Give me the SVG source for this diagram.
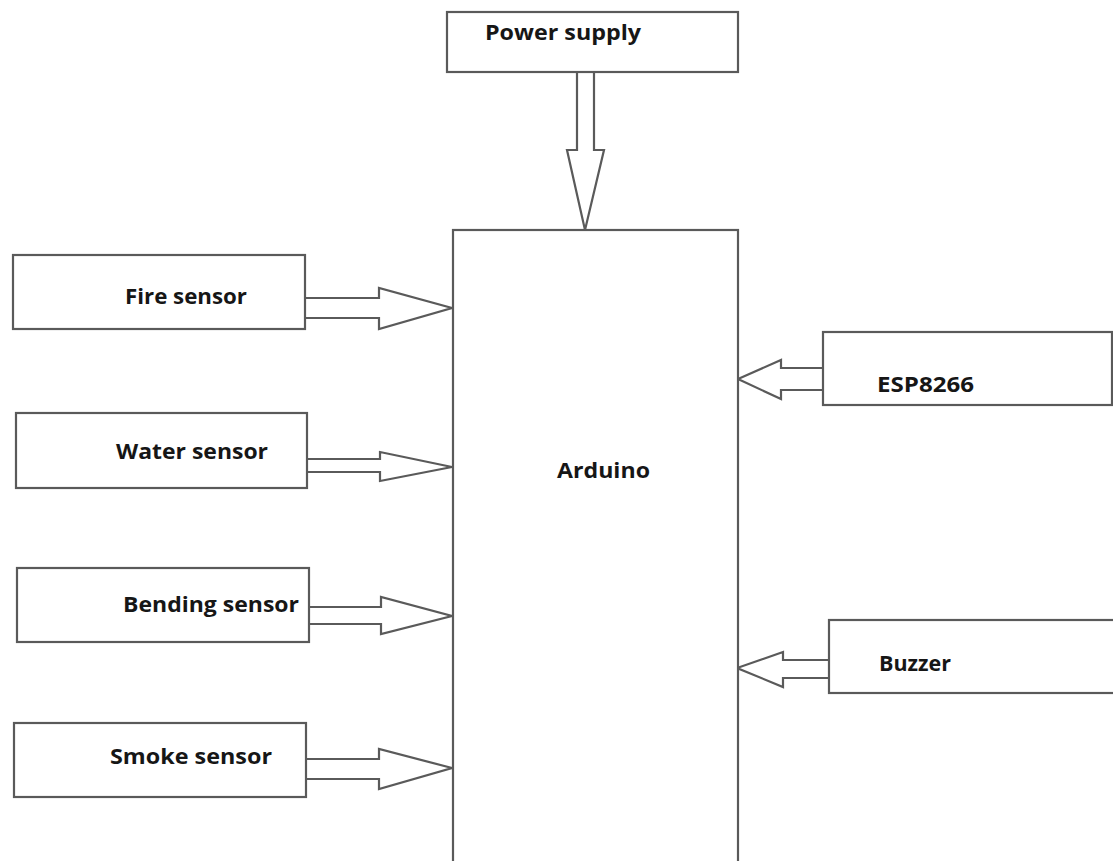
<svg xmlns="http://www.w3.org/2000/svg" width="1113" height="861" viewBox="0 0 1113 861">
<style>
.box{fill:#fff;stroke:#5a5a5a;stroke-width:2.2}
.arr{fill:#fff;stroke:#5a5a5a;stroke-width:2.2;stroke-linejoin:miter}
.lbl{font-family:"Open Sans","Liberation Sans",sans-serif;font-weight:bold;font-size:21px;fill:#161616}
</style>
<rect width="1113" height="861" fill="#fff"/>
<g id="connectors">
<polyline class="arr" points="577,72 577,150 567,150 585,230 604,150 594,150 594,72"/>
<polyline class="arr" points="305,298 379,298 379,288 452,308 379,329 379,318 305,318"/>
<polyline class="arr" points="307,459 380,459 380,452 452,467 380,481 380,472 307,472"/>
<polyline class="arr" points="309,607 381,607 381,597 452,616 381,634 381,624 309,624"/>
<polyline class="arr" points="306,759 379,759 379,749 452,768 379,789 379,779 306,779"/>
<polyline class="arr" points="823,368 781,368 781,360 738,379 781,399 781,390 823,390"/>
<polyline class="arr" points="829,660 783,660 783,652 737,668 783,687 783,678 829,678"/>
</g>
<g id="power">
<rect class="box" x="447" y="12" width="291" height="60"/>
<text class="lbl" x="485" y="40" textLength="156" lengthAdjust="spacingAndGlyphs">Power supply</text>
</g>
<g id="arduino">
<rect class="box" x="453" y="230" width="285" height="650"/>
<text class="lbl" x="557" y="478" textLength="93" lengthAdjust="spacingAndGlyphs">Arduino</text>
</g>
<g id="fire">
<rect class="box" x="13" y="255" width="292" height="74"/>
<text class="lbl" x="125" y="304" textLength="122" lengthAdjust="spacingAndGlyphs">Fire sensor</text>
</g>
<g id="water">
<rect class="box" x="16" y="413" width="291" height="75"/>
<text class="lbl" x="116" y="459" textLength="152" lengthAdjust="spacingAndGlyphs">Water sensor</text>
</g>
<g id="bending">
<rect class="box" x="17" y="568" width="292" height="74"/>
<text class="lbl" x="123" y="612" textLength="176" lengthAdjust="spacingAndGlyphs">Bending sensor</text>
</g>
<g id="smoke">
<rect class="box" x="14" y="723" width="292" height="74"/>
<text class="lbl" x="110" y="764" textLength="162" lengthAdjust="spacingAndGlyphs">Smoke sensor</text>
</g>
<g id="esp">
<rect class="box" x="823" y="332" width="289" height="73"/>
<text class="lbl" x="877" y="392" textLength="97" lengthAdjust="spacingAndGlyphs">ESP8266</text>
</g>
<g id="buzzer">
<rect class="box" x="829" y="620" width="300" height="73"/>
<text class="lbl" x="879" y="671" textLength="72" lengthAdjust="spacingAndGlyphs">Buzzer</text>
</g>
</svg>
